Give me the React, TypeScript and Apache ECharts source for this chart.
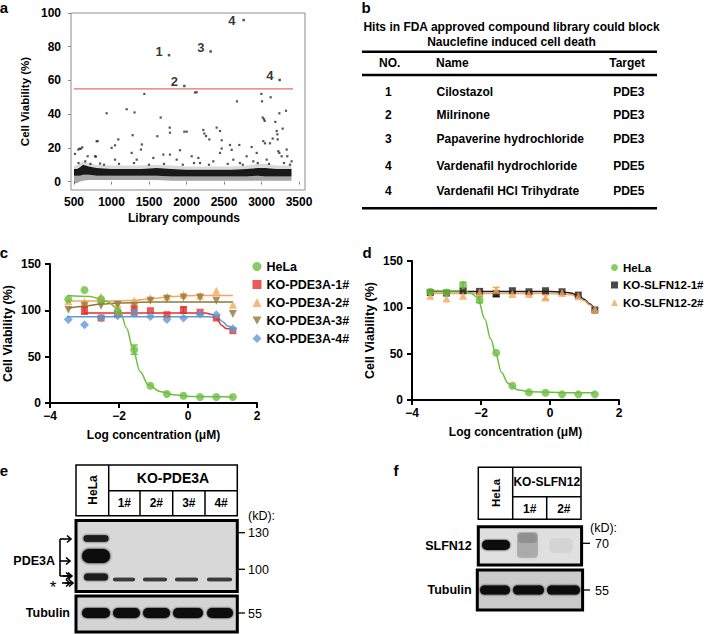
import React, { useEffect, useRef } from 'react';
import * as echarts from 'echarts';

const FONT = '"Liberation Sans", Arial, Helvetica, sans-serif';

// ---------- Panel a: library screen ----------
const screenTicksX = [500, 1000, 1500, 2000, 2500, 3000, 3500];
const screenTicksY = [0, 20, 40, 60, 80, 100];
const cutoffValue = 55;
const cutoffRange = [500, 3420];
const hitPoints = [[1767, 75], [1971, 56.7], [2322, 77.2], [2762, 95.8], [3242, 60.3]];
const hitLabels = ['1', '2', '3', '4', '4'];
const scatterPoints = [
  [513, 16.4], [558, 19], [575, 19.5], [589, 19.4], [610, 20.3], [682, 15], [780, 15], [793, 14.8],
  [802, 23.9], [815, 24], [847, 10.7], [935, 40.5], [1002, 20], [1047, 21.5], [1047, 13], [1091, 25],
  [1202, 42.9], [1269, 17], [1282, 27.5], [1307, 41], [1336, 13], [1393, 19], [1405, 22], [1438, 52],
  [1558, 14], [1611, 26.9], [1656, 38], [1691, 16], [1776, 32], [1780, 29], [1780, 16], [1869, 13],
  [1913, 18.6], [1971, 29.6], [2002, 29.6], [2069, 15], [2113, 52.8], [2136, 53], [2158, 14], [2180, 11],
  [2224, 30.6], [2238, 28.5], [2260, 27], [2304, 25], [2358, 12], [2402, 32], [2447, 30], [2447, 17],
  [2469, 24.5], [2469, 19.6], [2580, 21.7], [2602, 18.8], [2624, 13], [2673, 47.6], [2704, 21.7], [2713, 11],
  [2802, 15], [2869, 20.5], [2891, 12], [2936, 17], [2998, 52], [3007, 47.6], [3016, 38], [3033, 37],
  [3042, 36], [3024, 24], [3047, 22.7], [3069, 13], [3113, 22.7], [3122, 50], [3149, 25.5], [3184, 35.4],
  [3202, 30], [3211, 28], [3216, 25], [3224, 18], [3238, 17], [3238, 40.5], [3269, 15], [3282, 31.4],
  [3327, 42], [3336, 19], [3344, 15], [3402, 12],
  [560, 11], [650, 12], [720, 10.5], [900, 10], [1100, 10.5], [1300, 11], [1500, 10], [1700, 10.5],
  [1950, 10], [2100, 11], [2300, 10], [2550, 10.5], [2750, 10], [2950, 11], [3100, 10.5], [3300, 11], [3380, 10],
];
const bandX = [500, 540, 580, 620, 700, 800, 1000, 1200, 1400, 1600, 1800, 2000, 2200, 2400, 2600, 2800, 2950, 3050, 3200, 3400];
const bandLow = [3.5, 3.5, 3.5, 4, 4, 3.5, 3.5, 3.5, 3.5, 3.5, 3, 3, 3, 3, 3, 3, 3.5, 3, 3, 3];
const bandHigh = [7.5, 7.5, 8.5, 10, 9, 8, 7.5, 7.5, 7.5, 8, 7.5, 7, 7, 7, 7, 7.5, 8, 8, 7.5, 7.5];
const cloudLow = [-1, -1, 0, 0.5, 1, 1, 1, 1, 1, 1, 0.5, 0.5, 0.5, 0.5, 0.5, 0.5, 0.5, 0.5, 0.5, 0.5];
const cloudHigh = [9.5, 9.5, 11, 12, 11, 10, 9.5, 9.5, 9.5, 10, 9.5, 9, 9, 9, 9, 9.5, 10.5, 10.5, 9.5, 9.5];

// ---------- Panel b: table ----------
const tableTitle = ['Hits in FDA approved compound library could block', 'Nauclefine induced cell death'];
const tableHeader = ['NO.', 'Name', 'Target'];
const hitNo = ['1', '2', '3', '4', '4'];
const hitName = ['Cilostazol', 'Milrinone', 'Papaverine hydrochloride', 'Vardenafil hydrochloride', 'Vardenafil HCl Trihydrate'];
const hitTarget = ['PDE3', 'PDE3', 'PDE3', 'PDE5', 'PDE5'];

// ---------- Panels c, d: dose response ----------
const logConc = [-3.47, -3.0, -2.52, -2.04, -1.56, -1.09, -0.61, -0.13, 0.35, 0.82, 1.3];
const cHeLa = [112, 122, 112, 99, 57.5, 18.7, 9.7, 7.9, 6.5, 6.5, 6.5];
const cKO1 = [null, 100, 91.7, 96, 100, 99.6, 95.3, 100.6, 98, 91.7, 78];
const cKO2 = [110, 109.6, 115, 106.8, 110.7, 113.3, 115, 116.8, 116, 121, 106];
const cKO3 = [100.6, 105, 105, 106, 105, 110.4, 112.5, 113.9, 113.9, 110.4, 96];
const cKO4 = [90, 84.5, 91.7, 94.2, 97, 93.4, 90, 91.7, 96, 95.3, 80];
const cHeLaFit = [[-3.5, 116], [-2.84, 115], [-2.36, 109.6], [-1.98, 100.6], [-1.78, 81], [-1.6, 59], [-1.39, 34], [-1.15, 19.7], [-0.81, 12.5], [-0.43, 9], [0.06, 7], [1.31, 6.5]];
const cKO1Fit = [[-3.0, 97], [0.5, 97], [0.7, 95.5], [0.85, 90], [0.97, 84], [1.1, 80.5], [1.3, 79.5]];
const cKO2Fit = [[-3.5, 110], [-2.0, 110], [-1.5, 111], [-1.0, 112.8], [-0.5, 114.8], [0, 115.8], [0.5, 116], [1.3, 116]];
const cKO3Fit = [[-3.5, 102], [-3.0, 104.5], [-2.5, 106.8], [-2.0, 108], [-1.0, 109], [1.3, 109]];
const cKO4Fit = [[-3.5, 93], [0.6, 93], [0.85, 92], [1.0, 88], [1.15, 83], [1.3, 81]];
const cErrHeLa = [[-1.56, 52.5, 62.5]];
const cErrKO1 = [[-3.0, 96, 104], [-1.56, 95, 104.5], [-0.13, 97, 103.5]];

const dHeLa = [116.8, 116, 124, 108, 51, 15.4, 8.2, 7.8, 6.1, 6.1, 6.1];
const dKO1 = [116, 115.4, 117.9, 117.2, 114.3, 117.9, 116.8, 117.9, 116.8, 113.2, 97.1];
const dKO2 = [112.5, 109.6, 112.5, 116, 119, 114.3, 114.3, 110.7, 115.4, 111.9, 98.2];
const dHeLaFit = [[-3.5, 118], [-2.5, 117.5], [-2.3, 115.5], [-2.1, 110.7], [-1.89, 87.5], [-1.72, 66], [-1.58, 51], [-1.41, 30], [-1.21, 17.8], [-0.92, 10.7], [-0.54, 8.9], [0.62, 7.8], [1.3, 7.8]];
const dKO1Fit = [[-3.5, 117], [0, 117], [0.35, 116.5], [0.6, 115.5], [0.8, 113], [1.0, 108.5], [1.15, 103.5], [1.3, 97.5]];
const dKO2Fit = [[-3.5, 115], [0, 115], [0.35, 114.5], [0.6, 113.5], [0.8, 111.5], [1.0, 107], [1.15, 102.5], [1.3, 97.5]];
const dErrHeLa = [[-2.52, 120.5, 127], [-2.04, 105, 112]];
const dErrKO1 = [[-1.56, 112, 117.5]];
const dErrKO2 = [[-1.56, 114, 121.5], [-0.13, 108.5, 113.5]];

// ---------- Panels e, f: blots ----------
const eGroup = 'KO-PDE3A';
const eLanes = ['1#', '2#', '3#', '4#'];
const eMarkers = ['130', '100'];
const fGroup = 'KO-SLFN12';
const fLanes = ['1#', '2#'];
const fMarker = '70';
const tubulinMarker = '55';

const GREEN = '#6cbf3f';
const RED = '#e5312d';
const ORANGE = '#f6a55c';
const OLIVE = '#8c7a3a';
const BLUE = '#5d9cd6';
const BLACK = '#1e1a1a';

const pts = (vals: (number | null)[]) =>
  logConc.map((x, i) => (vals[i] == null ? null : [x, vals[i]])).filter((p) => p !== null);

const minus = (v: number) => (v < 0 ? '\u2212' + Math.abs(v) : String(v));

const titleStyle = { fontFamily: FONT, fontWeight: 'bold', fontSize: 12, color: '#000' };
const labelStyle = { fontFamily: FONT, fontWeight: 'bold', fontSize: 12, color: '#000' };

function bandSeries(lowArr: number[], highArr: number[], fill: string, z: number) {
  return {
    type: 'custom', xAxisIndex: 0, yAxisIndex: 0, silent: true, z,
    data: [[bandX[0], lowArr[0]]],
    renderItem: (_p: any, api: any) => {
      const top = bandX.map((x, i) => api.coord([x, highArr[i]]));
      const bot = bandX.map((x, i) => api.coord([x, lowArr[i]])).reverse();
      return { type: 'polygon', shape: { points: top.concat(bot) }, style: { fill } };
    },
  };
}

function errSeries(idx: number, data: number[][], color: string) {
  return {
    type: 'custom', xAxisIndex: idx, yAxisIndex: idx, silent: true, z: 3,
    data,
    encode: { x: 0, y: [1, 2] },
    renderItem: (_p: any, api: any) => {
      const x = api.value(0);
      const lo = api.coord([x, api.value(1)]);
      const hi = api.coord([x, api.value(2)]);
      const w = 3.5;
      const st = { stroke: color, lineWidth: 1.5 };
      return {
        type: 'group',
        children: [
          { type: 'line', shape: { x1: lo[0], y1: lo[1], x2: hi[0], y2: hi[1] }, style: st },
          { type: 'line', shape: { x1: lo[0] - w, y1: lo[1], x2: lo[0] + w, y2: lo[1] }, style: st },
          { type: 'line', shape: { x1: hi[0] - w, y1: hi[1], x2: hi[0] + w, y2: hi[1] }, style: st },
        ],
      };
    },
  };
}

function doseSeries(idx: number, name: string, vals: (number | null)[], fit: number[][], color: string, symbol: string, size: number) {
  return [
    {
      type: 'line', name: name + ' fit', xAxisIndex: idx, yAxisIndex: idx, data: fit,
      symbol: 'none', showSymbol: false, smooth: 0.35, smoothMonotone: 'x',
      lineStyle: { color, width: 1.5 }, itemStyle: { color }, silent: true, z: 2,
    },
    {
      type: 'scatter', name, xAxisIndex: idx, yAxisIndex: idx, data: pts(vals),
      symbol, symbolSize: size, itemStyle: { color }, z: 4,
    },
  ];
}

const INV_TRI = 'path://M0,0L10,0L5,9Z';

function doseXAxis(idx: number) {
  return {
    type: 'value', gridIndex: idx, min: -4, max: 2, interval: 2,
    axisLine: { show: true, onZero: false, lineStyle: { color: '#000', width: 2 } },
    axisTick: { show: true, length: 5, lineStyle: { color: '#000', width: 2 } },
    axisLabel: { ...labelStyle, margin: 7, formatter: minus },
    splitLine: { show: false },
    name: 'Log concentration (\u03bcM)', nameLocation: 'middle', nameGap: 26, nameTextStyle: titleStyle,
  };
}
function doseYAxis(idx: number) {
  return {
    type: 'value', gridIndex: idx, min: 0, max: 150, interval: 50,
    axisLine: { show: true, onZero: false, lineStyle: { color: '#000', width: 2 } },
    axisTick: { show: true, length: 5, lineStyle: { color: '#000', width: 2 } },
    axisLabel: { ...labelStyle, margin: 9 },
    splitLine: { show: false },
    name: 'Cell Viability (%)', nameLocation: 'middle', nameGap: 36, nameTextStyle: { ...titleStyle, fontSize: 12.5 },
  };
}

// ---------- graphic helpers ----------
const T = (text: string, x: number, y: number, o: any = {}) => ({
  type: 'text', x, y, rotation: o.rot || 0, silent: true, z: 30,
  style: {
    text, fill: o.fill || '#000',
    font: `${o.w || 'bold'} ${o.s || 12}px ${FONT}`,
    align: o.a || 'center', verticalAlign: 'middle',
  },
});
const L = (x1: number, y1: number, x2: number, y2: number, lw = 1.5, color = '#000') => ({
  type: 'line', silent: true, z: 30, shape: { x1, y1, x2, y2 }, style: { stroke: color, lineWidth: lw },
});
const R = (x: number, y: number, w: number, h: number, style: any, z = 20) => ({
  type: 'rect', silent: true, z, shape: { x, y, width: w, height: h }, style,
});
const BAND = (cx: number, cy: number, w: number, h: number, fill: string, blur = 3) => ({
  type: 'rect', silent: true, z: 22,
  shape: { x: cx - w / 2, y: cy - h / 2, width: w, height: h, r: h / 2 },
  style: { fill, shadowBlur: blur, shadowColor: fill },
});
const ARROW = (x1: number, x2: number, y: number) => [
  L(x1, y, x2, y, 1.6),
  { type: 'polyline', silent: true, z: 30, shape: { points: [[x2 - 4, y - 3.5], [x2, y], [x2 - 4, y + 3.5]] }, style: { stroke: '#000', lineWidth: 1.6, fill: null } },
];

function buildGraphic() {
  const g: any[] = [];
  // panel letters
  g.push(T('a', 4, 7, { s: 15, a: 'center' }));
  g.push(T('b', 366, 7, { s: 15 }));
  g.push(T('c', 4, 252, { s: 15 }));
  g.push(T('d', 367, 252, { s: 15 }));
  g.push(T('e', 4, 470, { s: 15 }));
  g.push(T('f', 396, 470, { s: 15 }));

  // ---- table (b) ----
  g.push(T(tableTitle[0], 511.5, 27, { s: 12 }));
  g.push(T(tableTitle[1], 511.5, 41.7, { s: 12 }));
  g.push(L(362, 51.7, 657, 51.7, 2.5));
  g.push(T(tableHeader[0], 379, 63.3, { a: 'left' }));
  g.push(T(tableHeader[1], 436, 63.3, { a: 'left' }));
  g.push(T(tableHeader[2], 645, 63.3, { a: 'right' }));
  g.push(L(362, 75, 657, 75, 2.5));
  const rowY = [92.3, 115.3, 139.3, 165.7, 191];
  hitNo.forEach((n, i) => {
    g.push(T(n, 388.3, rowY[i]));
    g.push(T(hitName[i], 436.5, rowY[i], { a: 'left' }));
    g.push(T(hitTarget[i], 644.5, rowY[i], { a: 'right' }));
  });
  g.push(L(362, 208.3, 657, 208.3, 2.5));

  // ---- blot e ----
  const eX0 = 76, eX1 = 237.3;
  g.push(R(eX0, 465, eX1 - eX0, 50.7, { fill: '#fff', stroke: '#000', lineWidth: 1.5 }));
  g.push(L(108.7, 465, 108.7, 515.7));
  g.push(L(108.7, 490.7, eX1, 490.7));
  [140, 172.7, 205].forEach((x) => g.push(L(x, 490.7, x, 515.7)));
  g.push(T('HeLa', 93, 490, { rot: Math.PI / 2, s: 12 }));
  g.push(T(eGroup, 173, 478, { s: 14 }));
  const eCols = [124.3, 156.3, 188.8, 221.1];
  eLanes.forEach((l, i) => g.push(T(l, eCols[i], 503.3, { s: 12 })));
  g.push(T('(kD):', 248, 516, { w: 'normal', s: 12.5, a: 'left' }));
  // PDE3A blot
  g.push(R(eX0, 520.5, eX1 - eX0, 71, { fill: '#d8d8d8' }, 20));
  g.push(BAND(96, 538.5, 25, 6.5, '#1a1a1a', 2.5));
  g.push(BAND(96, 556, 28, 14, '#080808', 3));
  g.push(BAND(96, 577, 24, 7, '#1a1a1a', 2.5));
  const eKO = [[124, 22], [155, 24], [186.5, 23], [219.5, 25]];
  eKO.forEach(([cx, w]) => g.push(BAND(cx, 579.5, w, 3.5, '#3a3a3a', 1.5)));
  g.push(R(eX0, 520.5, eX1 - eX0, 71, { fill: null, stroke: '#000', lineWidth: 3 }, 25));
  // tubulin blot e
  g.push(R(eX0, 596, eX1 - eX0, 36, { fill: '#d4d4d4' }, 20));
  const eTub = [[96, 28], [126.5, 27], [156.5, 27], [188, 30], [220, 26]];
  eTub.forEach(([cx, w]) => g.push(BAND(cx, 613, w, 10, '#0a0a0a', 2)));
  g.push(R(eX0, 596, eX1 - eX0, 36, { fill: null, stroke: '#000', lineWidth: 3 }, 25));
  // markers e
  g.push(L(eX1, 532.7, 245, 532.7, 1.3));
  g.push(T(eMarkers[0], 248, 533, { w: 'normal', s: 12.5, a: 'left' }));
  g.push(L(eX1, 569.3, 245, 569.3, 1.3));
  g.push(T(eMarkers[1], 248, 569.5, { w: 'normal', s: 12.5, a: 'left' }));
  g.push(L(eX1, 613, 245, 613, 1.3));
  g.push(T(tubulinMarker, 248, 613.5, { w: 'normal', s: 12.5, a: 'left' }));
  g.push(T('PDE3A', 55, 561, { a: 'right', s: 12.5 }));
  g.push(T('Tubulin', 70, 613, { a: 'right', s: 12.5 }));
  g.push(L(60, 539, 60, 576, 1.6));
  g.push(...ARROW(60, 71, 539));
  g.push(...ARROW(60, 70, 561));
  g.push(...ARROW(60, 70, 576));
  g.push(...ARROW(63, 72, 576));
  g.push(...ARROW(62, 70, 583));
  g.push(...ARROW(65, 73, 583));
  g.push(T('*', 53, 587, { s: 17, w: 'normal' }));

  // ---- blot f ----
  const fX0 = 478.3, fX1 = 581;
  g.push(R(fX0, 467.3, fX1 - fX0, 52, { fill: '#fff', stroke: '#000', lineWidth: 1.5 }));
  g.push(L(512.7, 467.3, 512.7, 519.3));
  g.push(L(512.7, 496.7, fX1, 496.7));
  g.push(L(546.7, 496.7, 546.7, 519.3));
  g.push(T('HeLa', 496, 493, { rot: Math.PI / 2, s: 11.5 }));
  g.push(T(fGroup, 546.8, 482, { s: 12 }));
  g.push(T(fLanes[0], 529.7, 508.5, { s: 12 }));
  g.push(T(fLanes[1], 563.8, 508.5, { s: 12 }));
  g.push(T('(kD):', 590, 527.5, { w: 'normal', s: 12.5, a: 'left' }));
  // SLFN12 blot
  g.push(R(fX0, 526.7, 103.3, 38.3, { fill: '#e0e0e0' }, 20));
  g.push(BAND(496, 545, 28, 10, '#0c0c0c', 2.5));
  g.push({ type: 'rect', silent: true, z: 21, shape: { x: 517, y: 532, width: 21, height: 26, r: 4 }, style: { fill: 'rgba(0,0,0,0.2)', shadowBlur: 5, shadowColor: 'rgba(0,0,0,0.25)' } });
  g.push({ type: 'rect', silent: true, z: 21, shape: { x: 518, y: 533, width: 19, height: 10, r: 3 }, style: { fill: 'rgba(0,0,0,0.14)', shadowBlur: 3, shadowColor: 'rgba(0,0,0,0.15)' } });
  g.push({ type: 'rect', silent: true, z: 21, shape: { x: 549, y: 538, width: 24, height: 15, r: 5 }, style: { fill: 'rgba(0,0,0,0.05)', shadowBlur: 4, shadowColor: 'rgba(0,0,0,0.05)' } });
  g.push(R(fX0, 526.7, 103.3, 38.3, { fill: null, stroke: '#000', lineWidth: 3 }, 25));
  // tubulin f
  g.push(R(477.3, 570, 105.3, 40, { fill: '#cacaca' }, 20));
  const fTub = [[495, 30], [528.5, 31], [563.5, 33]];
  fTub.forEach(([cx, w]) => g.push(BAND(cx, 590, w, 9, '#0a0a0a', 2)));
  g.push(R(477.3, 570, 105.3, 40, { fill: null, stroke: '#000', lineWidth: 3 }, 25));
  g.push(L(582.5, 543.3, 590, 543.3, 1.3));
  g.push(T(fMarker, 595, 543.5, { w: 'normal', s: 12.5, a: 'left' }));
  g.push(L(582.5, 590, 590, 590, 1.3));
  g.push(T(tubulinMarker, 595, 590.5, { w: 'normal', s: 12.5, a: 'left' }));
  g.push(T('SLFN12', 471.7, 545.7, { a: 'right', s: 12.5 }));
  g.push(T('Tubulin', 471.7, 590, { a: 'right', s: 12.5 }));
  return g;
}

const plain = (v: number) => String(v);

const option: any = {
  animation: false,
  backgroundColor: '#fff',
  grid: [
    { left: 71, top: 13, width: 234, height: 177, show: true, borderColor: '#8c8c8c', borderWidth: 1, backgroundColor: 'transparent' },
    { left: 50, top: 264, width: 207, height: 139 },
    { left: 412, top: 261, width: 207, height: 139 },
  ],
  xAxis: [
    {
      type: 'value', gridIndex: 0, min: 460, max: 3580,
      axisLine: { show: false },
      axisTick: { show: true, length: 3, lineStyle: { color: '#888' }, customValues: screenTicksX },
      axisLabel: { ...labelStyle, margin: 6, customValues: screenTicksX, formatter: plain },
      splitLine: { show: false },
      name: 'Library compounds', nameLocation: 'middle', nameGap: 22,
      nameTextStyle: { ...titleStyle, padding: [0, 8, 0, 0] },
    },
    doseXAxis(1),
    doseXAxis(2),
  ],
  yAxis: [
    {
      type: 'value', gridIndex: 0, min: -5, max: 100,
      axisLine: { show: false },
      axisTick: { show: true, length: 3, lineStyle: { color: '#888' }, customValues: screenTicksY },
      axisLabel: { ...labelStyle, margin: 10, customValues: screenTicksY, formatter: plain },
      splitLine: { show: false },
      name: 'Cell Viability (%)', nameLocation: 'middle', nameGap: 40,
      nameTextStyle: { ...titleStyle, fontSize: 11.5 },
    },
    doseYAxis(1),
    doseYAxis(2),
  ],
  legend: [
    {
      orient: 'vertical', left: 247.5, top: 255, itemWidth: 9, itemHeight: 9, itemGap: 5,
      selectedMode: false,
      textStyle: { fontFamily: FONT, fontWeight: 'bold', fontSize: 12.5, color: '#000', lineHeight: 12 },
      data: [
        { name: 'HeLa', icon: 'circle' },
        { name: 'KO-PDE3A-1#', icon: 'rect' },
        { name: 'KO-PDE3A-2#', icon: 'triangle' },
        { name: 'KO-PDE3A-3#', icon: INV_TRI },
        { name: 'KO-PDE3A-4#', icon: 'diamond' },
      ],
    },
    {
      orient: 'vertical', left: 606, top: 256.5, itemWidth: 7, itemHeight: 7, itemGap: 5.5,
      selectedMode: false,
      textStyle: { fontFamily: FONT, fontWeight: 'bold', fontSize: 11.5, color: '#000', lineHeight: 12 },
      data: [
        { name: 'HeLa', icon: 'circle' },
        { name: 'KO-SLFN12-1#', icon: 'rect' },
        { name: 'KO-SLFN12-2#', icon: 'triangle' },
      ],
    },
  ],
  series: [
    bandSeries(cloudLow, bandLow, 'rgba(0,0,0,0.35)', 1),
    bandSeries(bandHigh, cloudHigh, 'rgba(0,0,0,0.15)', 1),
    bandSeries(bandLow, bandHigh, 'rgba(0,0,0,0.9)', 2),
    {
      type: 'scatter', name: 'Library', xAxisIndex: 0, yAxisIndex: 0, data: scatterPoints,
      symbol: 'rect', symbolSize: 2.2, itemStyle: { color: '#2a2a2a' }, silent: true, z: 3,
    },
    {
      type: 'line', name: 'Cutoff', xAxisIndex: 0, yAxisIndex: 0,
      data: [[cutoffRange[0], cutoffValue], [cutoffRange[1], cutoffValue]],
      symbol: 'none', lineStyle: { color: '#e46f6c', width: 1.2 }, silent: true, z: 4,
    },
    {
      type: 'scatter', name: 'Hits', xAxisIndex: 0, yAxisIndex: 0,
      data: hitPoints.map((v, i) => ({ value: v, label: i === 3 ? { offset: [-2, 0] } : undefined })),
      symbol: 'rect', symbolSize: 2.5, itemStyle: { color: '#2a2a2a' }, z: 5,
      label: {
        show: true, position: 'left', distance: 5, offset: [0, -4],
        formatter: (p: any) => hitLabels[p.dataIndex],
        fontFamily: FONT, fontWeight: 'bold', fontSize: 13, color: '#000',
      },
    },
    // panel c
    ...doseSeries(1, 'KO-PDE3A-2#', cKO2, cKO2Fit, ORANGE, 'triangle', 8),
    ...doseSeries(1, 'KO-PDE3A-3#', cKO3, cKO3Fit, OLIVE, INV_TRI, 8),
    ...doseSeries(1, 'KO-PDE3A-1#', cKO1, cKO1Fit, RED, 'rect', 7),
    ...doseSeries(1, 'KO-PDE3A-4#', cKO4, cKO4Fit, BLUE, 'diamond', 9),
    ...doseSeries(1, 'HeLa', cHeLa, cHeLaFit, GREEN, 'circle', 8),
    errSeries(1, cErrHeLa, GREEN),
    errSeries(1, cErrKO1, RED),
    // panel d
    ...doseSeries(2, 'KO-SLFN12-1#', dKO1, dKO1Fit, BLACK, 'rect', 7),
    ...doseSeries(2, 'KO-SLFN12-2#', dKO2, dKO2Fit, ORANGE, 'triangle', 8),
    ...doseSeries(2, 'HeLa', dHeLa, dHeLaFit, GREEN, 'circle', 8),
    errSeries(2, dErrHeLa, GREEN),
    errSeries(2, dErrKO1, BLACK),
    errSeries(2, dErrKO2, ORANGE),
  ],
  graphic: buildGraphic(),
};

export default function App() {
  const ref = useRef<HTMLDivElement>(null);
  useEffect(() => {
    if (!ref.current) return;
    const chart = echarts.init(ref.current, null, { renderer: 'svg' });
    chart.setOption(option);
    return () => chart.dispose();
  }, []);
  return (
    <div
      ref={ref}
      style={{ position: 'absolute', left: 0, top: 0, width: 708, height: 634, background: '#fff' }}
    />
  );
}
